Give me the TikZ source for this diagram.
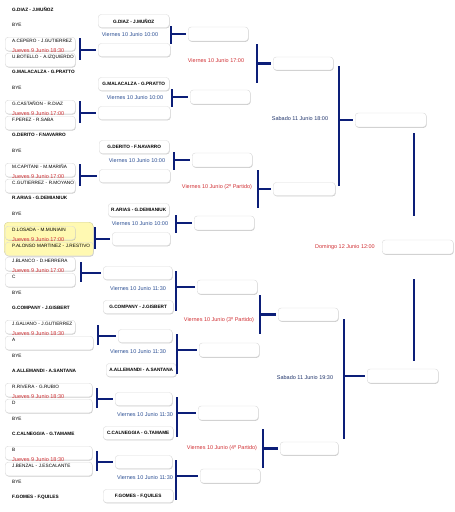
\documentclass[tikz,border=0pt]{standalone}
\usepackage{fontspec}
\setmainfont{Liberation Sans}
\usetikzlibrary{shadows}
\definecolor{barblue}{RGB}{12,30,120}
\definecolor{datered}{RGB}{208,48,52}
\definecolor{dateblue}{RGB}{45,80,148}
\definecolor{sabblue}{RGB}{34,54,108}
\definecolor{hlyellow}{RGB}{255,249,178}
\newcommand\nmfont{\fontsize{4.7}{5}\selectfont}
\newcommand\dtfont{\fontsize{5.5}{6}\selectfont}
\tikzset{
  slot/.style    = {draw=black!14, fill=white, rounded corners=3pt,
                    drop shadow={shadow xshift=0.5pt, shadow yshift=-0.8pt,
                                 fill=black!40},
                    inner sep=0pt, minimum height=13pt},
  pbox/.style    = {slot, anchor=west, inner xsep=7pt, inner ysep=2pt,
                    text width=#1, align=left, text height=3.5pt,
                    text depth=6pt, font=\nmfont},
  rbox/.style    = {slot, anchor=west, minimum width=#1, font=\nmfont\bfseries},
  team/.style    = {anchor=west, inner sep=0pt, font=\nmfont},
  seed/.style    = {team, font=\nmfont\bfseries},
  pdate/.style   = {anchor=west, inner sep=0pt, text=datered, font=\dtfont},
  vdate/.style   = {inner sep=0pt, text=dateblue, font=\dtfont},
  rlbl/.style    = {inner sep=0pt, text=datered, font=\dtfont},
  slbl/.style    = {inner sep=0pt, text=sabblue, font=\dtfont},
  bar/.style     = {barblue, line width=2.8pt},
  stub/.style    = {barblue, line width=2.8pt, shorten >=2pt},
  hilite/.style  = {fill=hlyellow, draw=yellow!55!black!45, rounded corners=4pt,
                    drop shadow={shadow xshift=0.5pt, shadow yshift=-0.8pt,
                                 fill=black!35}},
}

\begin{document}
\begin{tikzpicture}[x=1pt, y=-1pt]
  \useasboundingbox (0,0) rectangle (455,512);
  \node[hilite, anchor=north west, minimum width=89, minimum height=33] (hl) at (4,222) {};
  % upper half: seed, bye, play-in
  \foreach \kk/\seedname/\pla/\plb/\hora/\wplb/\bgc/\plx/\ltx/\lbx/\dtx/\brx/\cthx in {
    0/G.DIAZ - J.MUÑOZ/A.CEPERO - J.GUTIERREZ/U.BOTELLO - A.IZQUIERDO/18:30/56pt/white/80/98/98/130/171/188,
    1/G.MALACALZA - G.PRATTO/G.CASTAÑON - R.DIAZ/F.PEREZ - R.SABA/17:00/56pt/white/80/98/98/135/172/190,
    2/G.DERITO - F.NAVARRO/M.CAPITANI - M.MARIÑA/C.GUTIERREZ - R.MOYANO/17:00/56pt/white/80/99/99/137/174/192,
    3/R.ARIAS - G.DEMIANIUK/D.LOSADA - M.MUNIAIN/P.ALONSO MARTINEZ - J.RESTIVO/17:00/74pt/hlyellow/95/108/112/140/176/194} {
    \pgfmathsetmacro{\yb}{9+63*\kk}
    \pgfmathsetmacro{\wt}{169-\ltx}
    \pgfmathsetmacro{\wl}{170-\lbx}
    \node[seed] (s\kk) at (12,\yb) {\seedname};
    \node[team] (bye\kk) at (12,\yb+16) {BYE};
    \node[pbox=56pt, fill=\bgc] (pa\kk) at (5,\yb+35) {\mbox{\pla}};
    \node[pbox=\wplb, fill=\bgc] (pb\kk) at (5,\yb+51) {\mbox{\plb}};
    \node[pdate] (pd\kk) at (12,\yb+42) {Jueves 9 Junio \hora};
    \node[rbox=\wt] (ct\kk) at (\ltx,\yb+12) {\seedname};
    \node[vdate] (vd\kk) at (\dtx,\yb+26) {Viernes 10 Junio 10:00};
    \node[rbox=\wl] (cb\kk) at (\lbx,\yb+41) {};
    \coordinate (pt\kk) at (\plx,\yb+29);
    \coordinate (pe\kk) at (\plx,\yb+51);
    \draw[bar] (pt\kk) -- (pe\kk);
    \draw[stub] (pt\kk |- cb\kk.west) -- (cb\kk.west);
    \node[slot, anchor=west, minimum width=60, minimum height=14] (cc\kk) at (\cthx,\yb+25) {};
    \coordinate (qt\kk) at (\brx,\yb+17);
    \coordinate (qe\kk) at (\brx,\yb+35);
    \draw[bar] (qt\kk) -- (qe\kk);
    \draw[stub] (qt\kk |- cc\kk.west) -- (cc\kk.west);
  }
  % lower half: play-in, bye, seed
  \foreach \kk/\pla/\plb/\hora/\wpla/\wplb/\seedname/\plx/\ltx/\lbx/\dtx/\brx/\cthx in {
    4/J.BLANCO - D.HERRERA/C/17:00/56pt/56pt/G.COMPANY - J.GISBERT/81/103/103/138/176/197,
    5/J.GALIANO - J.GUTIERREZ/A/18:30/56pt/74pt/A.ALLEMANDI - A.SANTANA/98/118/106/138/177/199,
    6/R.RIVERA - G.RUBIO/D/18:30/73pt/73pt/C.CALNEGGIA - G.TAMAME/97/115/103/145/177/198,
    7/B/J.BENZAL - J.ESCALANTE/18:30/73pt/73pt/F.GOMES - F.QUILES/97/115/103/145/176/200} {
    \pgfmathsetmacro{\yb}{9+63*\kk}
    \pgfmathsetmacro{\wt}{172-\ltx}
    \node[pbox=\wpla] (pa\kk) at (5,\yb+3) {\mbox{\pla}};
    \node[pbox=\wplb] (pb\kk) at (5,\yb+19) {\mbox{\plb}};
    \node[pdate] (pd\kk) at (12,\yb+10) {Jueves 9 Junio \hora};
    \node[team] (bye\kk) at (12,\yb+32) {BYE};
    \node[seed] (s\kk) at (12,\yb+47) {\seedname};
    \node[rbox=\wt] (ct\kk) at (\ltx,\yb+12) {};
    \node[vdate] (vd\kk) at (\dtx,\yb+28) {Viernes 10 Junio 11:30};
    \node[rbox=70] (cb\kk) at (\lbx,\yb+46) {\seedname};
    \coordinate (pt\kk) at (\plx,\yb+1);
    \coordinate (pe\kk) at (\plx,\yb+21);
    \draw[bar] (pt\kk) -- (pe\kk);
    \draw[stub] (pt\kk |- ct\kk.west) -- (ct\kk.west);
    \node[slot, anchor=west, minimum width=60, minimum height=14] (cc\kk) at (\cthx,\yb+26) {};
    \coordinate (qt\kk) at (\brx,\yb+10);
    \coordinate (qe\kk) at (\brx,\yb+50);
    \draw[bar] (qt\kk) -- (qe\kk);
    \draw[stub] (qt\kk |- cc\kk.west) -- (cc\kk.west);
  }
  % quarter finals
  \foreach \jj/\brx/\yt/\ye/\ltx/\bw/\lly/\txt in {
    0/257/44/83/273/60/61/Viernes 10 Junio 17:00,
    1/258/170/208/273/62/187/Viernes 10 Junio (2º Partido),
    2/260/295/334/278/60/320/Viernes 10 Junio (3º Partido),
    3/263/429/468/280/58/448/Viernes 10 Junio (4º Partido)} {
    \pgfmathsetmacro{\ym}{(\yt+\ye)/2}
    \coordinate (rt\jj) at (\brx,\yt);
    \coordinate (re\jj) at (\brx,\ye);
    \draw[bar] (rt\jj) -- (re\jj);
    \node[slot, anchor=west, minimum width=\bw] (cd\jj) at (\ltx,\ym) {};
    \draw[stub] (rt\jj |- cd\jj.west) -- (cd\jj.west);
    \node[rlbl] (rl\jj) at (\brx-41,\lly) {\txt};
  }
  % semi finals
  \foreach \jj/\brx/\yt/\ye/\ltx/\ym/\lly/\txt in {
    0/339/66/186/355/120/119/Sabado 11 Junio 18:00,
    1/344/319/439/367/376/378/Sabado 11 Junio 19:30} {
    \coordinate (st\jj) at (\brx,\yt);
    \coordinate (se\jj) at (\brx,\ye);
    \draw[bar] (st\jj) -- (se\jj);
    \node[slot, anchor=west, minimum width=71, minimum height=14] (sf\jj) at (\ltx,\ym) {};
    \draw[stub] (st\jj |- sf\jj.west) -- (sf\jj.west);
    \node[slbl] (sl\jj) at (\brx-39,\lly) {\txt};
  }
  % final
  \coordinate (ft0) at (414,133);
  \coordinate (fe0) at (414,216);
  \coordinate (ft1) at (414,279);
  \coordinate (fe1) at (414,361);
  \draw[bar] (ft0) -- (fe0);
  \draw[bar] (ft1) -- (fe1);
  \node[slot, anchor=west, minimum width=71, minimum height=14] (fin) at (382,247) {};
  \node[rlbl] (dom) at (345,247) {Domingo 12 Junio 12:00};
\end{tikzpicture}
\end{document}
